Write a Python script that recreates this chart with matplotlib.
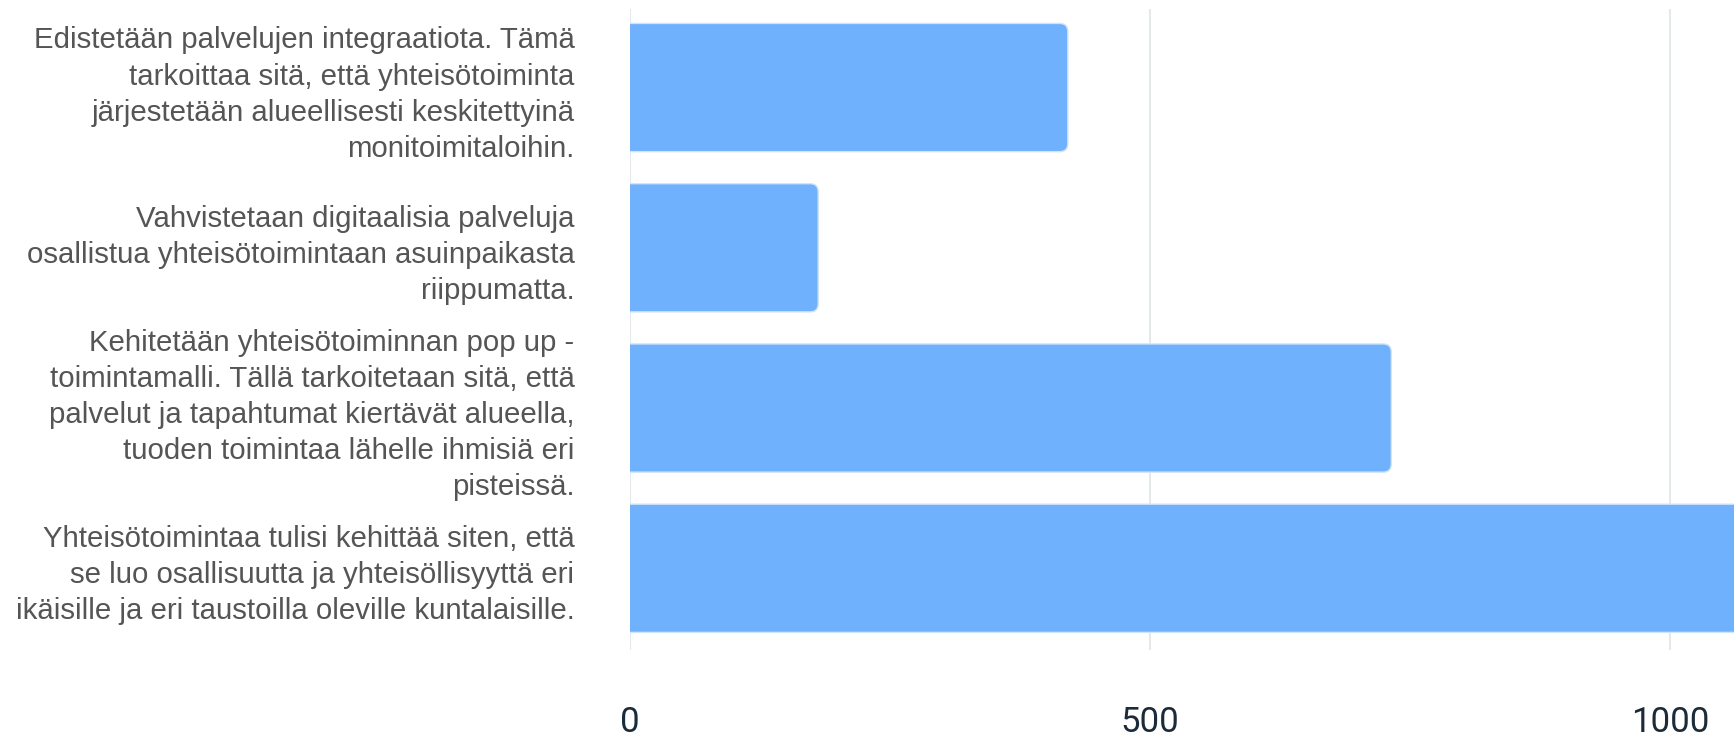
import matplotlib.pyplot as plt
from matplotlib.patches import FancyBboxPatch

# answer options (top to bottom) and their counts
labels = [
    "Edistetään palvelujen integraatiota. Tämä\ntarkoittaa sitä, että yhteisötoiminta\njärjestetään alueellisesti keskitettyinä\nmonitoimitaloihin.",
    "Vahvistetaan digitaalisia palveluja\nosallistua yhteisötoimintaan asuinpaikasta\nriippumatta.",
    "Kehitetään yhteisötoiminnan pop up -\ntoimintamalli. Tällä tarkoitetaan sitä, että\npalvelut ja tapahtumat kiertävät alueella,\ntuoden toimintaa lähelle ihmisiä eri\npisteissä.",
    "Yhteisötoimintaa tulisi kehittää siten, että\nse luo osallisuutta ja yhteisöllisyyttä eri\nikäisille ja eri taustoilla oleville kuntalaisille.",
]
counts = [421, 181, 732, 1090]
xticks = [0, 500, 1000]

fig = plt.figure(figsize=(17.34, 7.45), dpi=100)
ax = fig.add_axes([0.3633, 0.1275, 0.6367, 0.8604])

ypos = list(range(len(labels)))
bars = ax.barh(ypos, counts, height=0.8, color="#70b1fe", zorder=2)

# swap plain bars for ones with rounded ends
r = 7.7
for b in bars:
    b.set_visible(False)
    x, y, w, h = b.get_x(), b.get_y(), b.get_width(), b.get_height()
    p = FancyBboxPatch((x - 2 * r, y), w + 2 * r, h,
                       boxstyle=f"round,pad=0,rounding_size={r}",
                       mutation_aspect=0.0065, facecolor="#70b1fe",
                       edgecolor="#cfe4fd", linewidth=1, zorder=2)
    ax.add_patch(p)

ax.set_xlim(0, 1061.5)
ax.set_ylim(3.51, -0.49)
ax.set_xticks(xticks)
ax.set_xticklabels([str(t) for t in xticks], fontsize=25, color="#1c2b3a",
                   family="Roboto")
ax.set_yticks(ypos)
ax.set_yticklabels(labels, fontsize=21.2, color="#555555",
                   family="Liberation Sans", linespacing=1.37)
ax.tick_params(axis="x", length=0, pad=40)
ax.tick_params(axis="y", length=0, pad=40)

ax.grid(axis="x", color="#e6e9ec", linewidth=1.5, zorder=0)
for s in ax.spines.values():
    s.set_visible(False)

fig.savefig("out.png", dpi=100)
